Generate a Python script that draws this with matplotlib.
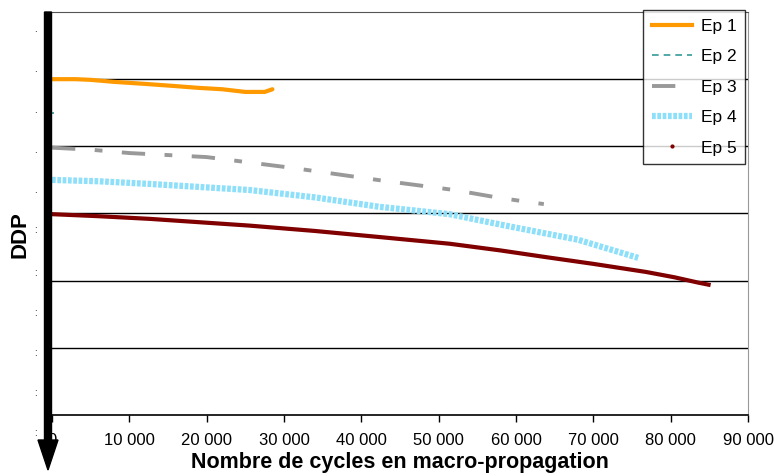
import matplotlib
matplotlib.use("Agg")
import matplotlib.pyplot as plt
from matplotlib.lines import Line2D
from matplotlib.patches import FancyArrow

plt.rcParams['font.family'] = ['Liberation Sans', 'DejaVu Sans']

# Data (x: cycles, y: DDP in arbitrary grid units, increasing downward)
ep1_x = [0, 3000, 5000, 8000, 12000, 15600, 19000, 22000, 25000, 27500, 28500]
ep1_y = [1.00, 1.00, 1.01, 1.04, 1.07, 1.10, 1.13, 1.15, 1.19, 1.19, 1.15]
ep2_x = [0, 300]
ep2_y = [1.50, 1.50]
ep3_x = [0, 5000, 10000, 20000, 31000, 42700, 52000, 58000, 63600]
ep3_y = [2.02, 2.05, 2.10, 2.16, 2.32, 2.51, 2.65, 2.77, 2.86]
ep4_x = [0, 6000, 12650, 25500, 34000, 42300, 51400, 59500, 68000, 75800]
ep4_y = [2.50, 2.52, 2.56, 2.65, 2.76, 2.90, 3.01, 3.20, 3.39, 3.66]
ep5_x = [0, 6000, 12650, 25500, 34000, 42300, 51400, 58000, 63900, 70000,
         76800, 80500, 83600, 84900]
ep5_y = [3.01, 3.04, 3.08, 3.18, 3.26, 3.35, 3.45, 3.55, 3.65, 3.75,
         3.87, 3.95, 4.03, 4.06]
xticks = [0, 10000, 20000, 30000, 40000, 50000, 60000, 70000, 80000, 90000]
xticklabels = ['0', '10 000', '20 000', '30 000', '40 000', '50 000',
               '60 000', '70 000', '80 000', '90 000']

W, H = 774, 476
fig = plt.figure(figsize=(W / 100, H / 100), dpi=100)
ax = fig.add_axes([52 / W, 1 - 415 / H, (748 - 52) / W, (415 - 12) / H])

ax.plot(ep1_x, ep1_y, color='#FF9900', lw=3, solid_capstyle='round')
ax.plot(ep2_x, ep2_y, color='#339999', lw=1.2, ls=(0, (4, 3)))
ax.plot(ep3_x, ep3_y, color='#999999', lw=2.8, ls=(0, (6, 5, 2, 5)))
ax.plot(ep4_x, ep4_y, color='#8EE0FA', lw=4.5, ls=(0, (0.6, 0.25)))
ax.plot(ep5_x, ep5_y, color='#800000', lw=3)

ax.set_xlim(0, 90000)
ax.set_ylim(6, 0)
ax.set_yticks([1, 2, 3, 4, 5])
ax.yaxis.grid(True, color='black', lw=1.0)
ax.set_axisbelow(True)
ax.tick_params(axis='y', left=False, labelleft=False)
ax.set_xticks(xticks)
ax.set_xticklabels(xticklabels, fontsize=12)
ax.tick_params(axis='x', direction='out', length=5, width=1, pad=8)
ax.spines['top'].set_color('#555555')
ax.spines['right'].set_color('#999999')
ax.spines['bottom'].set_linewidth(1.2)
ax.spines['left'].set_visible(False)

ax.set_xlabel('Nombre de cycles en macro-propagation', fontsize=15.5,
              fontweight='bold', labelpad=3)
fig.text(20 / W, 1 - 235 / H, 'DDP', rotation=90, fontsize=16,
         fontweight='bold', ha='center', va='center')

# garbled y tick marks
for i, yp in enumerate([29, 69, 110, 150, 190, 230, 273, 313, 353, 393, 433]):
    fig.text(35 / W, 1 - yp / H, '.' if i < 5 else ':', fontsize=7,
             ha='center', va='center')

# thick arrow on left
arr = FancyArrow(0.48, (H - 12) / 100, 0, -((470 - 12) / 100),
                 width=0.07, head_width=0.2, head_length=0.3,
                 length_includes_head=True, color='black',
                 transform=fig.dpi_scale_trans)
fig.patches.append(arr)

handles = [
    Line2D([], [], color='#FF9900', lw=3),
    Line2D([], [], color='#339999', lw=1.2, ls=(0, (4, 3))),
    Line2D([], [], color='#999999', lw=2.8, ls=(0, (6, 5, 2, 5))),
    Line2D([], [], color='#8EE0FA', lw=4.5, ls=(0, (0.6, 0.25))),
    Line2D([], [], color='#800000', lw=0, marker='.', markersize=4),
]
leg = fig.legend(handles, ['Ep 1', 'Ep 2', 'Ep 3', 'Ep 4', 'Ep 5'],
                 loc='upper right', bbox_to_anchor=(745 / W, 1 - 10 / H),
                 fontsize=12.5, frameon=True, fancybox=False, shadow=False,
                 handlelength=2.3, labelspacing=0.88, borderpad=0.5,
                 handletextpad=0.5, borderaxespad=0)
leg.get_frame().set_edgecolor('black')
leg.get_frame().set_linewidth(1.0)

fig.savefig('out.png', dpi=100)
